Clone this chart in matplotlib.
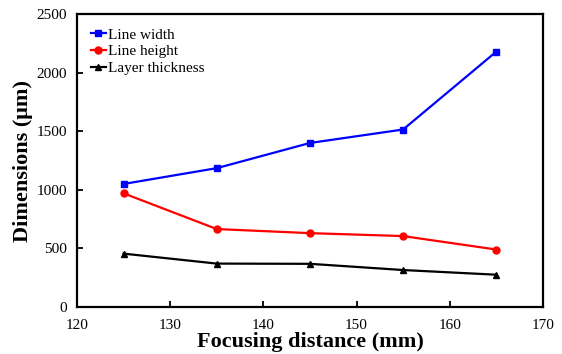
import matplotlib
matplotlib.use("Agg")
import matplotlib.pyplot as plt

plt.rcParams['font.family'] = ['Liberation Serif', 'DejaVu Serif']

# data
focus = [125, 135, 145, 155, 165]
line_width = [1050, 1185, 1400, 1515, 2180]
line_height = [970, 665, 630, 605, 490]
layer_thickness = [455, 370, 368, 315, 275]

fig, ax = plt.subplots(figsize=(5.62, 3.54), dpi=100)
fig.subplots_adjust(left=0.137, right=0.966, top=0.96, bottom=0.133)

ax.plot(focus, line_width, color='blue', marker='s', ms=5, lw=1.6, label='Line width')
ax.plot(focus, line_height, color='red', marker='o', ms=5, lw=1.6, label='Line height')
ax.plot(focus, layer_thickness, color='black', marker='^', ms=5, lw=1.6, label='Layer thickness')

ax.set_xlim(120, 170)
ax.set_ylim(0, 2500)
ax.set_xticks(range(120, 171, 10))
ax.set_yticks(range(0, 2501, 500))
ax.tick_params(direction='in', labelsize=11, width=1.3, length=4, top=False, right=False, pad=7)
ax.tick_params(axis='x', pad=9)
for s in ax.spines.values():
    s.set_linewidth(1.6)

ax.set_xlabel('Focusing distance (mm)', fontsize=16, fontweight='bold', labelpad=0)
ax.set_ylabel('Dimensions (μm)', fontsize=16, fontweight='bold', labelpad=3)

ax.legend(loc='upper left', frameon=False, fontsize=11, handlelength=1.0,
          handletextpad=0.1, labelspacing=0.2, borderaxespad=0.5)

fig.savefig('out.png', dpi=100)
